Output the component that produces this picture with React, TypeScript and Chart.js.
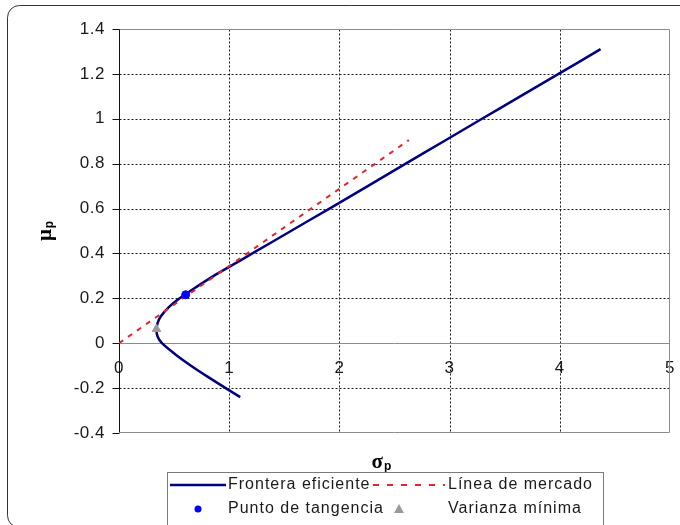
import { useEffect, useRef } from 'react';
import { Chart, registerables } from 'chart.js';

Chart.register(...registerables);

// Frontera eficiente (sigma, mu)
const frontierSigma = [1.10, 0.968, 0.807, 0.653, 0.512, 0.39, 0.35, 0.34, 0.35, 0.38, 0.45, 0.55, 0.70, 0.86, 1.035, 1.21, 1.56, 1.91, 2.257, 2.602, 2.948, 3.294, 3.641, 3.989, 4.37];
const frontierMu = [-0.24, -0.20, -0.15, -0.10, -0.05, 0.00, 0.03, 0.06, 0.09, 0.12, 0.16, 0.20, 0.25, 0.30, 0.35, 0.40, 0.50, 0.60, 0.70, 0.80, 0.90, 1.00, 1.10, 1.20, 1.31];

// Línea de mercado
const marketSigma = [0, 2.63];
const marketMu = [0, 0.905];

// Punto de tangencia
const tangencySigma = [0.605];
const tangencyMu = [0.216];

// Varianza mínima
const minVarSigma = [0.34];
const minVarMu = [0.063];

const xTicks = [0, 1, 2, 3, 4, 5];
const yTicks = [-0.4, -0.2, 0, 0.2, 0.4, 0.6, 0.8, 1.0, 1.2, 1.4];

const legendLabels = ['Frontera eficiente', 'Línea de mercado', 'Punto de tangencia', 'Varianza mínima'];
const xTitle = 'σ';
const yTitle = 'μ';
const titleSub = 'p';

const NAVY = '#000080';
const RED = '#e8222c';
const BLUE = '#0000ff';
const GRAY = '#9a9a9a';
const FONT = "'Liberation Sans', Arial, sans-serif";

const toPoints = (xs: number[], ys: number[]) => xs.map((x, i) => ({ x, y: ys[i] }));
const fmt = (v: number) => {
  const r = Math.round(v * 10) / 10;
  return r === 0 ? '0' : String(r);
};

const gridPlugin = {
  id: 'customGrid',
  beforeDraw(chart: any) {
    (chart.ctx as any).letterSpacing = '0.5px';
  },
  beforeDatasetsDraw(chart: any) {
    const { ctx, chartArea, scales } = chart;
    const { left, right, top, bottom } = chartArea;
    const x = scales.x;
    const y = scales.y;
    const L = Math.round(left) + 0.5;
    const R = Math.round(right) - 0.5;
    const T = Math.round(top) + 0.5;
    const B = Math.round(bottom) - 0.5;
    ctx.save();
    ctx.lineWidth = 1;
    ctx.strokeStyle = '#1a1a1a';
    ctx.setLineDash([2, 2]);
    for (const v of xTicks) {
      if (v <= xTicks[0] || v >= xTicks[xTicks.length - 1]) continue;
      const px = Math.round(x.getPixelForValue(v)) + 0.5;
      ctx.beginPath();
      ctx.moveTo(px, T);
      ctx.lineTo(px, B);
      ctx.stroke();
    }
    for (const v of yTicks) {
      if (v === 0 || v <= yTicks[0] || v >= yTicks[yTicks.length - 1]) continue;
      const py = Math.round(y.getPixelForValue(v)) + 0.5;
      ctx.beginPath();
      ctx.moveTo(L, py);
      ctx.lineTo(R, py);
      ctx.stroke();
    }
    ctx.setLineDash([]);
    // plot border
    ctx.strokeStyle = '#8c8c8c';
    ctx.beginPath();
    ctx.moveTo(L, T);
    ctx.lineTo(R, T);
    ctx.lineTo(R, B);
    ctx.lineTo(L, B);
    ctx.stroke();
    // zero line
    const zy = Math.round(y.getPixelForValue(0)) + 0.5;
    ctx.beginPath();
    ctx.moveTo(L, zy);
    ctx.lineTo(R, zy);
    ctx.stroke();
    // y axis
    ctx.strokeStyle = '#111';
    ctx.beginPath();
    ctx.moveTo(L, T);
    ctx.lineTo(L, B);
    for (const v of yTicks) {
      const py = Math.round(y.getPixelForValue(v)) + 0.5;
      ctx.moveTo(L - 7, py);
      ctx.lineTo(L, py);
    }
    ctx.stroke();
    ctx.restore();
  },
  afterDraw(chart: any) {
    const { ctx, chartArea } = chart;
    ctx.save();
    (ctx as any).letterSpacing = '0px';
    // axis titles
    const drawTitle = (cx: number, cy: number, rot: number, main: string) => {
      ctx.save();
      ctx.translate(cx, cy);
      ctx.rotate(rot);
      ctx.fillStyle = '#000';
      ctx.textBaseline = 'alphabetic';
      ctx.textAlign = 'left';
      ctx.font = "bold 21px 'Liberation Serif', serif";
      const w1 = ctx.measureText(main).width;
      ctx.font = `bold 12px ${FONT}`;
      const w2 = ctx.measureText(titleSub).width;
      const start = -(w1 + w2 + 1) / 2;
      ctx.font = "bold 21px 'Liberation Serif', serif";
      ctx.fillText(main, start, 4);
      ctx.font = `bold 12px ${FONT}`;
      ctx.fillText(titleSub, start + w1 + 1, 6);
      ctx.restore();
    };
    drawTitle((chartArea.left + chartArea.right) / 2 - 13, 464, 0, xTitle);
    drawTitle(47, (chartArea.top + chartArea.bottom) / 2, -Math.PI / 2, yTitle);

    // legend box
    ctx.strokeStyle = '#7a7a7a';
    ctx.lineWidth = 1;
    ctx.strokeRect(167.5, 472.5, 436, 70);
    const r1 = 485;
    const r2 = 509;
    ctx.font = `16px ${FONT}`;
    (ctx as any).letterSpacing = '1px';
    ctx.fillStyle = '#1a1a1a';
    ctx.textBaseline = 'middle';
    ctx.textAlign = 'left';
    ctx.fillText(legendLabels[0], 228, r1);
    ctx.fillText(legendLabels[1], 448, r1);
    ctx.fillText(legendLabels[2], 228, r2);
    ctx.fillText(legendLabels[3], 448, r2);
    (ctx as any).letterSpacing = '0px';
    // samples
    ctx.strokeStyle = NAVY;
    ctx.lineWidth = 2.5;
    ctx.beginPath();
    ctx.moveTo(170, r1);
    ctx.lineTo(226, r1);
    ctx.stroke();
    ctx.strokeStyle = RED;
    ctx.lineWidth = 2;
    ctx.setLineDash([6, 8]);
    ctx.beginPath();
    ctx.moveTo(373, r1);
    ctx.lineTo(445, r1);
    ctx.stroke();
    ctx.setLineDash([]);
    ctx.fillStyle = BLUE;
    ctx.beginPath();
    ctx.arc(198, r2, 3.5, 0, Math.PI * 2);
    ctx.fill();
    ctx.fillStyle = GRAY;
    ctx.beginPath();
    ctx.moveTo(399, r2 - 5);
    ctx.lineTo(404, r2 + 4);
    ctx.lineTo(394, r2 + 4);
    ctx.closePath();
    ctx.fill();

    // outer rounded border
    ctx.strokeStyle = '#333';
    ctx.lineWidth = 1;
    ctx.beginPath();
    ctx.roundRect(7.5, 5.5, 700, 522, 12);
    ctx.stroke();
    ctx.restore();
  },
};

export default function App() {
  const ref = useRef<HTMLCanvasElement | null>(null);
  useEffect(() => {
    if (!ref.current) return;
    const chart = new Chart(ref.current, {
      type: 'scatter',
      data: {
        datasets: [
          {
            label: legendLabels[0],
            data: toPoints(frontierSigma, frontierMu),
            showLine: true,
            borderColor: NAVY,
            borderWidth: 2.5,
            pointRadius: 0,
            tension: 0.3,
            order: 3,
          },
          {
            label: legendLabels[1],
            data: toPoints(marketSigma, marketMu),
            showLine: true,
            borderColor: RED,
            borderWidth: 2,
            borderDash: [5, 6],
            pointRadius: 0,
            order: 2,
          },
          {
            label: legendLabels[2],
            data: toPoints(tangencySigma, tangencyMu),
            backgroundColor: BLUE,
            borderColor: BLUE,
            pointRadius: 4,
            pointStyle: 'circle',
            order: 1,
          },
          {
            label: legendLabels[3],
            data: toPoints(minVarSigma, minVarMu),
            backgroundColor: GRAY,
            borderColor: GRAY,
            pointRadius: 5,
            pointStyle: 'triangle',
            order: 0,
          },
        ],
      },
      options: {
        animation: false,
        responsive: true,
        maintainAspectRatio: false,
        layout: { padding: { left: 0, right: 10, top: 29, bottom: 92 } },
        plugins: { legend: { display: false }, tooltip: { enabled: false } },
        scales: {
          x: {
            type: 'linear',
            min: 0,
            max: 5,
            position: { y: 0 } as any,
            grid: { display: false, drawTicks: false },
            border: { display: false },
            ticks: {
              stepSize: 1,
              padding: 15,
              color: '#1a1a1a',
              font: { family: FONT, size: 17 },
              maxRotation: 0,
              callback: (v: any) => fmt(Number(v)),
            },
            afterFit: (s: any) => {
              s.paddingLeft = 0;
              s.paddingRight = 0;
              s.paddingTop = 0;
              s.paddingBottom = 0;
            },
          },
          y: {
            type: 'linear',
            min: -0.4,
            max: 1.4,
            grid: { display: false, drawTicks: false },
            border: { display: false },
            ticks: {
              stepSize: 0.2,
              padding: 14,
              color: '#1a1a1a',
              font: { family: FONT, size: 17 },
              callback: (v: any) => fmt(Number(v)),
            },
            afterFit: (s: any) => {
              s.width = 119;
              s.paddingTop = 0;
              s.paddingBottom = 0;
            },
          },
        },
      },
      plugins: [gridPlugin],
    });
    return () => chart.destroy();
  }, []);
  return (
    <div style={{ position: 'absolute', left: 0, top: 0, width: 680, height: 525, background: '#fff' }}>
      <canvas ref={ref} />
    </div>
  );
}
